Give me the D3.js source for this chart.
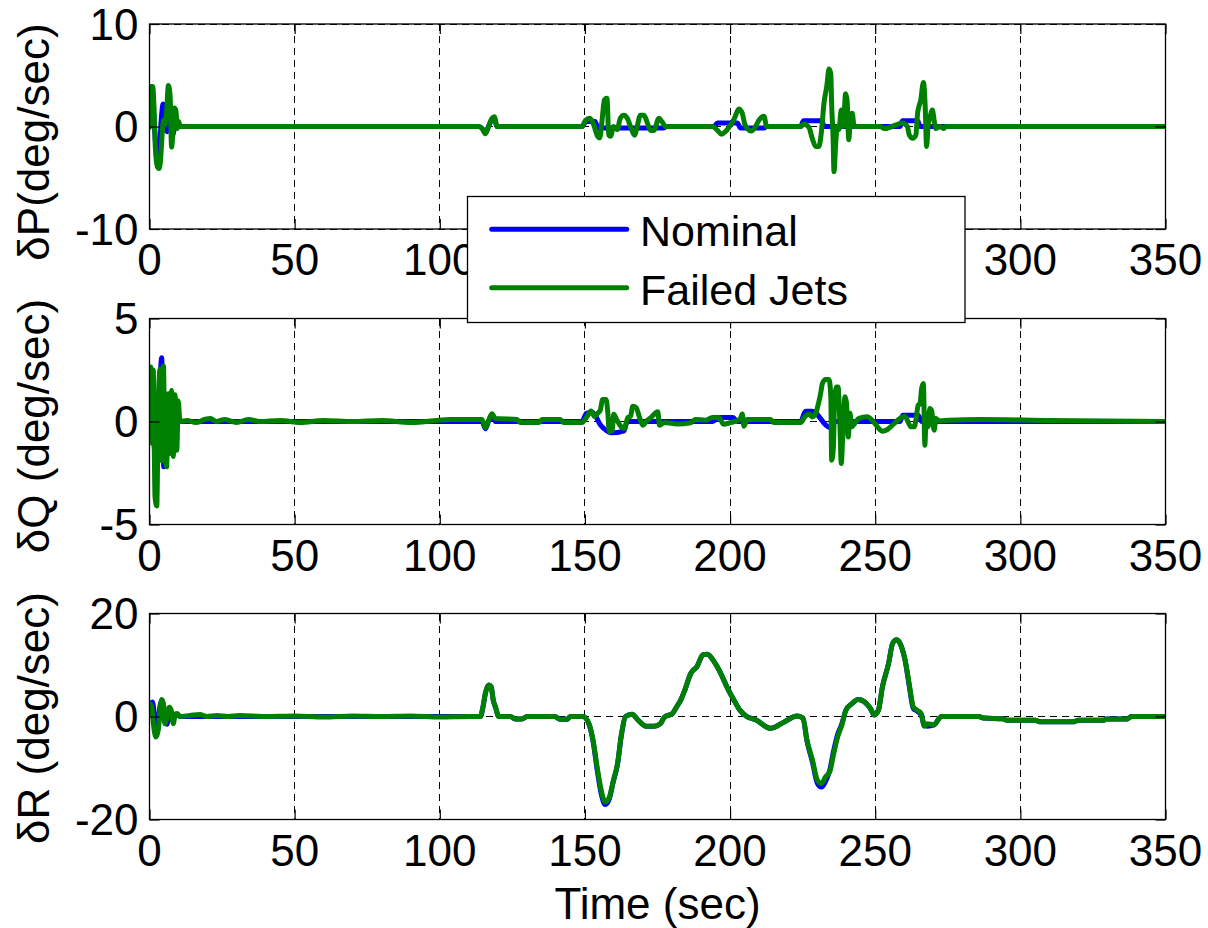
<!DOCTYPE html>
<html>
<head>
<meta charset="utf-8">
<script src="https://cdn.jsdelivr.net/npm/d3@7"></script>
<style>
  html, body { margin: 0; padding: 0; background: #fff; }
  svg { display: block; }
  text { font-family: "Liberation Sans", Arial, sans-serif; fill: #000; }
</style>
</head>
<body>
<svg id="chart" width="1208" height="928"></svg>
<script>
// ---- time axis ----
const timeTicks = [0, 50, 100, 150, 200, 250, 300, 350];

// ---- roll rate error δP (deg/sec) ----
const pNomT = [0, 0.6, 1.5, 2.3, 3.2, 4.0, 4.7, 5.4, 6.0, 7.0, 8.0, 9.0, 10.0, 113.4, 114.6, 115.7, 116.8, 118.0, 118.8, 119.7, 149.0, 150.5, 153.5, 154.5, 177.2, 178.0, 194.5, 195.6, 202.5, 203.6, 211.7, 212.6, 224.3, 225.3, 231.5, 232.5, 258.5, 259.4, 264.6, 265.5, 350];
const pNomV = [0, 3.0, 1.0, -2.5, -3.6, 0.5, 2.2, 1.5, -0.5, 1.0, -0.8, 0.3, 0, 0, -0.2, -0.6, 0, 0.7, 0.8, 0, 0, 0.5, 0.5, -0.15, -0.15, 0, 0, 0.35, 0.35, -0.15, -0.15, 0, 0, 0.55, 0.55, 0, 0, 0.55, 0.55, 0, 0];
const pFailT = [0, 0.4, 1.1, 1.55, 2.0, 2.7, 3.3, 3.8, 4.3, 4.8, 5.3, 5.9, 6.5, 7.1, 7.6, 8.2, 8.6, 9.1, 9.6, 10.1, 10.5, 113.4, 114.6, 115.7, 116.8, 118.0, 118.8, 119.7, 149.0, 150.2, 151.7, 153.0, 154.2, 155.1, 155.9, 156.7, 157.6, 158.2, 158.8, 159.9, 161.1, 162.2, 163.4, 164.6, 165.7, 167.1, 168.0, 169.1, 170.3, 171.4, 172.6, 173.7, 175.5, 176.6, 177.8, 193.9, 195.6, 197.0, 198.4, 200.1, 201.5, 203.0, 204.2, 205.0, 205.9, 207.3, 208.8, 209.9, 211.7, 212.6, 224.3, 225.5, 227.2, 228.3, 229.5, 230.6, 231.4, 232.4, 233.3, 234.1, 234.7, 235.0, 235.5, 235.8, 236.4, 236.9, 237.5, 238.3, 239.0, 239.8, 240.3, 240.9, 241.5, 242.1, 242.7, 251.9, 253.1, 254.8, 257.1, 259.4, 261.1, 261.7, 262.9, 264.0, 264.6, 265.7, 266.6, 267.2, 267.7, 268.2, 268.9, 269.7, 270.3, 270.9, 272.4, 273.5, 274.4, 350];
const pFailV = [-0.1, 3.9, 3.9, 1.9, -2.0, -3.9, -4.1, -3.3, -1.0, 0.6, 0.2, 1.5, 4.0, 3.0, -2.0, 0.0, 1.8, 1.5, -0.2, 0.5, 0, 0, -0.2, -0.7, 0.0, 0.8, 0.95, 0, 0, 0.6, 0.8, 0.2, -0.85, -1.1, 0.6, 2.6, 2.75, -0.85, -0.95, 0, -0.3, 0.8, 1.1, 0.8, 0, -0.85, 0, 1.1, 1.1, 0.45, -0.4, -0.4, 0.8, 0.45, 0, 0, -0.35, -0.75, -0.5, 0.1, 0.8, 1.7, 1.3, 0.3, -0.2, -0.45, 0, 0.6, 1.0, 0, 0, 0.25, -0.1, -1.15, -1.95, -1.95, -0.7, 2.4, 3.9, 5.6, 5.1, 2.1, -1.2, -4.4, -1.6, 0, -0.3, 1.6, 0, 3.2, 2.6, -1.3, 1.0, 1.3, 0, 0, -0.2, -0.1, 0.15, 0.35, 0, -0.8, -1.15, -0.85, 1.3, 2.6, 4.3, 2.1, -1.95, 0, 0.95, 1.6, 0.6, -0.2, 0, -0.2, 0, 0];

// ---- pitch rate error δQ (deg/sec) ----
const qNomT = [0, 0.5, 1.5, 2.5, 3.5, 4.2, 4.9, 5.5, 6.5, 7.5, 8.5, 10, 114.5, 115.7, 116.8, 118.0, 119.1, 149.0, 150.5, 152.5, 153.5, 155.5, 157.5, 159.0, 163.5, 164.5, 194.0, 196.0, 201.0, 202.5, 224.3, 226.0, 228.3, 234.5, 236.0, 258.5, 259.5, 264.8, 266.0, 350];
const qNomV = [0, 1.5, -1.0, -2.0, 1.5, 3.1, -2.2, 0.5, -1.0, 0.8, -0.5, 0, 0, -0.35, 0, 0.3, 0, 0, 0.4, 0.45, 0.3, -0.2, -0.45, -0.55, -0.45, 0, 0, 0.2, 0.2, 0, 0, 0.5, 0.5, -0.3, 0, 0, 0.3, 0.3, 0, 0];
const qFailT = [0, 0.4, 0.9, 1.3, 1.9, 2.5, 3.0, 3.6, 4.2, 4.8, 5.3, 5.9, 6.5, 7.1, 7.6, 8.2, 8.8, 9.4, 9.9, 10.5, 13, 16, 19, 21, 23, 26, 30, 34, 38, 45, 52, 60, 70, 80, 90, 103.6, 114.5, 115.7, 116.8, 118.0, 119.1, 126.6, 127.8, 134.1, 135.2, 141.5, 142.7, 149.0, 150.7, 152.1, 153.3, 154.4, 155.3, 156.1, 157.3, 157.9, 158.4, 159.4, 159.9, 161.1, 162.5, 163.6, 164.8, 165.7, 166.5, 167.6, 168.8, 169.9, 171.4, 172.8, 175.1, 175.7, 177.4, 181.8, 186.4, 188.1, 191.6, 193.9, 196.2, 197.7, 200.2, 203.4, 204.2, 204.8, 205.9, 214.0, 215.1, 224.3, 225.7, 227.2, 228.3, 229.5, 230.3, 231.2, 231.8, 232.9, 234.1, 234.7, 235.0, 235.6, 236.0, 236.7, 237.2, 237.8, 238.3, 238.9, 239.6, 240.1, 240.7, 241.3, 241.9, 242.9, 244.4, 247.3, 249.0, 250.8, 252.5, 254.2, 256.5, 258.8, 260.2, 261.1, 262.3, 263.4, 264.0, 264.8, 265.4, 266.0, 266.6, 267.1, 267.6, 268.2, 268.8, 269.4, 270.3, 270.9, 272.0, 275.4, 286.3, 310, 350];
const qFailV = [0, 2.65, -1.05, 2.5, -3.65, -4.1, 0.3, 2.55, -1.9, 2.7, -1.4, -2.2, 1.35, -1.55, 1.5, -1.7, 1.3, -1.4, 1.0, 0, 0.05, -0.05, 0.1, 0.15, 0, 0.1, -0.05, 0.1, 0, 0.05, -0.05, 0.05, 0, 0.05, -0.05, 0.1, 0.1, -0.3, 0.05, 0.38, 0.15, 0.1, -0.05, -0.05, 0.1, 0.1, -0.05, -0.05, 0.23, 0.51, 0.25, 0.4, 0.55, 1.07, 1.07, 0.4, -0.5, -0.45, 0.35, 0.05, -0.26, -0.34, 0.2, 0.25, 0.74, 0.68, 0.2, -0.18, 0.05, 0.2, 0.47, -0.18, -0.05, -0.12, -0.06, 0.1, 0.06, 0.2, 0.2, -0.13, -0.05, 0.1, 0.36, -0.23, 0.1, 0.1, -0.05, -0.05, 0.22, 0.36, 0.22, 0.39, 0.79, 1.36, 1.84, 2.04, 2.04, 1.2, -1.88, -1.25, 1.03, 1.68, 1.68, 0.0, -2.04, -0.4, 1.2, 0.9, -0.75, 0.4, -0.26, -0.1, 0.15, 0.23, 0.05, -0.26, -0.47, -0.39, -0.1, 0.18, 0.26, 0.05, -0.26, -0.26, 0.05, 0.79, 0.85, 1.6, 1.84, -1.15, 0.4, -0.26, 0.63, 0.55, -0.42, 0.15, 0.03, 0.06, 0.1, 0.05, 0];

// ---- yaw rate error δR (deg/sec) ----
const rFailT = [0, 0.75, 1.3, 2.2, 3.0, 3.6, 4.2, 4.8, 5.3, 6.2, 6.8, 7.6, 8.2, 8.8, 9.6, 10.5, 13.9, 17.4, 19.7, 23.2, 27, 31, 40, 50, 60, 70, 80, 90, 100, 110, 114.0, 114.9, 115.7, 116.9, 117.7, 118.4, 119.2, 120.3, 124.3, 126.0, 128.3, 130.1, 139.5, 141.6, 143.7, 145.1, 149.3, 151.4, 152.8, 154.2, 155.6, 157.0, 158.4, 159.8, 161.2, 162.6, 164.0, 166.2, 168.3, 171.1, 173.9, 176.0, 177.4, 180.2, 181.6, 183.0, 184.4, 186.5, 188.6, 190.7, 192.1, 194.9, 197.1, 199.2, 201.3, 203.4, 205.5, 209.0, 213.9, 218.8, 223.0, 225.1, 226.5, 228.4, 230.1, 231.5, 232.9, 234.3, 235.7, 237.1, 238.5, 239.9, 242.0, 244.1, 246.2, 248.3, 249.7, 251.1, 252.5, 254.6, 256.0, 257.4, 258.8, 260.3, 261.7, 263.1, 264.5, 265.9, 266.9, 268.0, 270.1, 272.9, 285.5, 287.6, 294.0, 295.4, 305.2, 306.6, 318.5, 319.9, 328.4, 329.8, 336.8, 338.2, 350];
const rFailV = [2.5, 1.9, -1.2, -4.0, -2.7, 1.0, 3.3, 2.5, -1.4, 0.3, 1.8, 1.0, -1.4, 0.3, 0.6, 0, 0.2, 0.4, 0, 0.2, 0, 0.2, 0, 0.1, -0.1, 0.1, 0, 0.1, -0.1, 0, 0, 1.9, 4.5, 6.1, 5.8, 3.2, 1.8, 0, 0, -0.5, -0.5, 0, 0, -0.55, -0.55, 0, 0, -1.4, -4.6, -9.8, -14.3, -16.6, -15.7, -12.4, -9.2, -3.3, 0, 0.45, -0.7, -1.9, -1.9, -1.4, -0.1, 0.6, 1.9, 3.2, 5.1, 8.4, 9.7, 12.0, 12.1, 10.3, 8.0, 5.4, 3.2, 1.2, 0.1, -0.7, -2.3, -1.0, 0.1, -0.3, -4.6, -8.5, -12.4, -13.0, -11.7, -10.8, -7.2, -3.9, -1.7, 1.2, 2.5, 3.3, 2.9, 1.6, 0.3, 1.2, 5.8, 10.3, 14.2, 14.9, 13.9, 10.9, 6.4, 1.9, 1.2, 0.5, -1.9, -1.4, -1.6, 0, 0, -0.3, -0.45, -0.75, -0.75, -1.0, -1.0, -0.75, -0.75, -0.5, -0.5, 0, 0];
const rNomT = [0, 1.0, 2.0, 2.8, 3.6, 4.3, 5.0, 6.0, 7.0, 8.0, 9.0, 10.5, 114.0, 114.9, 115.7, 116.9, 117.7, 118.4, 119.2, 120.3, 124.3, 126.0, 128.3, 130.1, 139.5, 141.6, 143.7, 145.1, 149.3, 151.4, 152.8, 154.2, 155.6, 157.0, 158.4, 159.8, 161.2, 162.6, 164.0, 166.2, 168.3, 171.1, 173.9, 176.0, 177.4, 180.2, 181.6, 183.0, 184.4, 186.5, 188.6, 190.7, 192.1, 194.9, 197.1, 199.2, 201.3, 203.4, 205.5, 209.0, 213.9, 218.8, 223.0, 225.1, 226.5, 228.4, 230.1, 231.5, 232.9, 234.3, 235.7, 237.1, 238.5, 239.9, 242.0, 244.1, 246.2, 248.3, 249.7, 251.1, 252.5, 254.6, 256.0, 257.4, 258.8, 260.3, 261.7, 263.1, 264.5, 265.9, 266.9, 268.0, 270.1, 272.9, 285.5, 287.6, 294.0, 295.4, 305.2, 306.6, 318.5, 319.9, 328.4, 329.8, 336.8, 338.2, 350];
const rNomV = [1.5, 2.8, -1.0, -2.5, 2.0, 3.0, -0.8, -1.5, 1.2, -0.8, 0.5, 0, 0, 1.9, 4.5, 6.1, 5.8, 3.2, 1.8, 0, 0, -0.5, -0.5, 0, 0, -0.55, -0.55, 0, 0, -1.5, -4.8, -10.3, -15.0, -17.1, -16.0, -12.6, -9.4, -3.5, 0, 0.45, -0.7, -1.9, -1.9, -1.4, -0.1, 0.6, 1.9, 3.2, 5.1, 8.4, 9.7, 12.0, 12.1, 10.3, 8.0, 5.4, 3.2, 1.2, 0.1, -0.7, -2.3, -1.0, 0.1, -0.3, -4.8, -8.9, -13.0, -13.7, -12.6, -10.5, -6.6, -3.4, -1.4, 1.2, 2.5, 3.3, 2.9, 1.6, 0.3, 1.2, 5.8, 10.3, 14.2, 14.9, 13.9, 10.9, 6.0, 1.6, 1.0, 0.2, -1.7, -1.9, -1.7, 0, 0, -0.3, -0.45, -0.75, -0.75, -1.0, -1.0, -0.75, -0.75, -0.5, -0.5, 0, 0];

// ---- panel definitions ----
const panelLabels = ["\u03B4P(deg/sec)", "\u03B4Q (deg/sec)", "\u03B4R (deg/sec)"];
const panelDomains = [[-10, 10], [-5, 5], [-20, 20]];
const panelTicks = [[-10, 0, 10], [-5, 0, 5], [-20, 0, 20]];
const seriesNames = ["Nominal", "Failed Jets"];
const seriesColors = ["#0000ff", "#008000"];

const zip = (ts, vs) => ts.map((t, i) => [t, vs[i]]);
const panelData = [
  [zip(pNomT, pNomV), zip(pFailT, pFailV)],
  [zip(qNomT, qNomV), zip(qFailT, qFailV)],
  [zip(rNomT, rNomV), zip(rFailT, rFailV)]
];

// ---- layout ----
const plotLeft = 149.5, plotRight = 1165.5;
const panelBox = [[24, 229], [318.5, 524.5], [613.5, 819.5]];
const labelCenterY = [142, 426, 718];
const tickFont = 44, labelFont = 44, legendFont = 43;
const tickLen = 10;

const svg = d3.select("#chart");
const x = d3.scaleLinear().domain([0, 350]).range([plotLeft, plotRight]);

panelBox.forEach((box, i) => {
  const [top, bottom] = box;
  const y = d3.scaleLinear().domain(panelDomains[i]).range([bottom, top]);
  const g = svg.append("g");

  // clip region for traces
  svg.append("clipPath").attr("id", "clip" + i)
    .append("rect").attr("x", plotLeft).attr("y", top)
    .attr("width", plotRight - plotLeft).attr("height", bottom - top);

  // dashed grid
  g.selectAll(".gx").data(timeTicks).join("line")
    .attr("x1", d => x(d)).attr("x2", d => x(d))
    .attr("y1", top).attr("y2", bottom)
    .attr("stroke", "#000").attr("stroke-width", 1)
    .attr("stroke-dasharray", "7,5").attr("shape-rendering", "crispEdges");
  g.selectAll(".gy").data(panelTicks[i]).join("line")
    .attr("x1", plotLeft).attr("x2", plotRight)
    .attr("y1", d => y(d)).attr("y2", d => y(d))
    .attr("stroke", "#000").attr("stroke-width", 1)
    .attr("stroke-dasharray", "7,5").attr("shape-rendering", "crispEdges");

  // traces
  const line = d3.line().x(d => x(d[0])).y(d => y(d[1])).curve(d3.curveMonotoneX);
  panelData[i].forEach((series, k) => {
    g.append("path").datum(series)
      .attr("clip-path", "url(#clip" + i + ")")
      .attr("d", line)
      .attr("fill", "none")
      .attr("stroke", seriesColors[k])
      .attr("stroke-width", 5)
      .attr("stroke-linejoin", "round")
      .attr("stroke-linecap", "round");
  });

  // axes box and inward ticks
  g.append("rect").attr("x", plotLeft).attr("y", top)
    .attr("width", plotRight - plotLeft).attr("height", bottom - top)
    .attr("fill", "none").attr("stroke", "#000").attr("stroke-width", 1.3);

  const xb = d3.axisBottom(x).tickValues(timeTicks).tickSize(-tickLen).tickFormat("");
  const xt = d3.axisTop(x).tickValues(timeTicks).tickSize(-tickLen).tickFormat("");
  const yl = d3.axisLeft(y).tickValues(panelTicks[i]).tickSize(-tickLen).tickFormat("");
  const yr = d3.axisRight(y).tickValues(panelTicks[i]).tickSize(-tickLen).tickFormat("");
  [[xb, `translate(0,${bottom})`], [xt, `translate(0,${top})`],
   [yl, `translate(${plotLeft},0)`], [yr, `translate(${plotRight},0)`]].forEach(([ax, tr]) => {
    const a = g.append("g").attr("transform", tr).call(ax);
    a.select(".domain").remove();
    a.selectAll("line").attr("stroke", "#000").attr("stroke-width", 1.2);
  });

  // tick labels
  g.selectAll(".xl").data(timeTicks).join("text")
    .attr("x", d => x(d)).attr("y", bottom + 46)
    .attr("text-anchor", "middle").attr("font-size", tickFont)
    .text(d => d);
  g.selectAll(".yl").data(panelTicks[i]).join("text")
    .attr("x", plotLeft - 11).attr("y", d => y(d))
    .attr("dy", "0.36em")
    .attr("text-anchor", "end").attr("font-size", tickFont)
    .text(d => d);

  // y axis title
  g.append("text")
    .attr("transform", `translate(49,${labelCenterY[i]}) rotate(-90)`)
    .attr("text-anchor", "middle").attr("font-size", labelFont)
    .text(panelLabels[i]);
});

// x axis title
svg.append("text")
  .attr("x", (plotLeft + plotRight) / 2).attr("y", 919)
  .attr("text-anchor", "middle").attr("font-size", labelFont)
  .text("Time (sec)");

// legend (drawn last so it sits above the upper panel's tick labels)
const lg = svg.append("g");
lg.append("rect").attr("x", 467.5).attr("y", 196.5).attr("width", 497.5).attr("height", 126)
  .attr("fill", "#fff").attr("stroke", "#000").attr("stroke-width", 1.3);
const legendRows = [229.3, 287.7];
seriesNames.forEach((name, k) => {
  lg.append("line")
    .attr("x1", 491.7).attr("x2", 626.7)
    .attr("y1", legendRows[k]).attr("y2", legendRows[k])
    .attr("stroke", seriesColors[k]).attr("stroke-width", 5)
    .attr("stroke-linecap", "round");
  lg.append("text")
    .attr("x", 640).attr("y", legendRows[k] + 17)
    .attr("font-size", legendFont)
    .text(name);
});
</script>
</body>
</html>
